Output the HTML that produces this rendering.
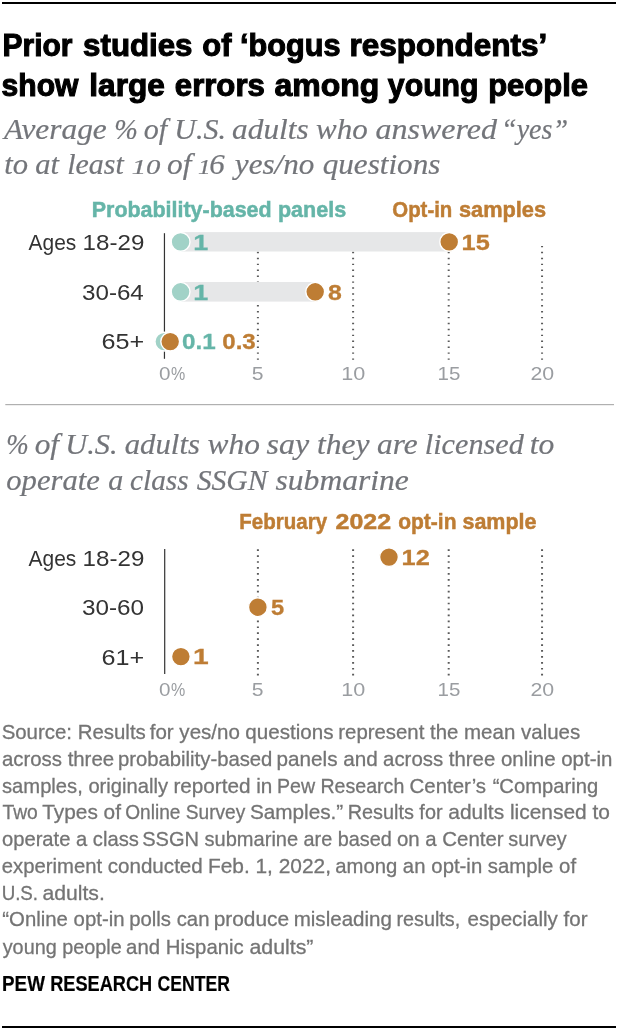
<!DOCTYPE html>
<html><head><meta charset="utf-8"><title>Prior studies of bogus respondents</title>
<style>html,body{margin:0;padding:0;background:#fff;font-family:"Liberation Sans",sans-serif}svg{display:block;will-change:transform}</style></head>
<body><svg width="620" height="1032" viewBox="0 0 620 1032">
<rect x="0" y="0" width="620" height="1032" fill="#ffffff"/>
<rect x="2" y="2" width="614" height="2" fill="#000"/>
<rect x="2" y="1026" width="614" height="2" fill="#000"/>
<rect x="5.3" y="404" width="608.7" height="1.2" fill="#b0b0b0"/>
<g stroke="#5a5a5a" stroke-width="2" stroke-dasharray="1.4 4.52">
<line x1="257.9" y1="245.9" x2="257.9" y2="360" />
<line x1="353.1" y1="245.9" x2="353.1" y2="360" />
<line x1="448.7" y1="245.9" x2="448.7" y2="360" />
<line x1="542.05" y1="245.9" x2="542.05" y2="360" />
</g>
<rect x="163.85" y="233.2" width="1.2" height="125.6" fill="#333333"/>
<rect x="180.6" y="232.1" width="268.7" height="19.4" fill="#e6e7e8"/>
<rect x="180.6" y="282" width="134.6" height="19.6" fill="#e6e7e8"/>
<circle cx="180.6" cy="241.9" r="9.4" fill="#a1d2c7" stroke="#fff" stroke-width="1.4"/>
<circle cx="449.2" cy="241.9" r="9.4" fill="#be7d34" stroke="#fff" stroke-width="1.4"/>
<circle cx="180.6" cy="291.8" r="9.4" fill="#a1d2c7" stroke="#fff" stroke-width="1.4"/>
<circle cx="315.2" cy="291.8" r="9.4" fill="#be7d34" stroke="#fff" stroke-width="1.4"/>
<circle cx="164.3" cy="341.6" r="9.4" fill="#a1d2c7" stroke="#fff" stroke-width="1.4"/>
<circle cx="170.2" cy="341.6" r="9.4" fill="#be7d34" stroke="#fff" stroke-width="1.4"/>
<g stroke="#5a5a5a" stroke-width="2" stroke-dasharray="1.7 4.23">
<line x1="257.9" y1="549.3" x2="257.9" y2="675.5"/>
<line x1="353.1" y1="549.3" x2="353.1" y2="675.5"/>
<line x1="448.7" y1="549.3" x2="448.7" y2="675.5"/>
<line x1="542.05" y1="549.3" x2="542.05" y2="675.5"/>
</g>
<rect x="164.1" y="549" width="1.2" height="125" fill="#333333"/>
<circle cx="389" cy="557.1" r="9.4" fill="#be7d34" stroke="#fff" stroke-width="1.4"/>
<circle cx="257.9" cy="607.2" r="9.4" fill="#be7d34" stroke="#fff" stroke-width="1.4"/>
<circle cx="180.9" cy="656.6" r="9.4" fill="#be7d34" stroke="#fff" stroke-width="1.4"/>
<g font-family="Liberation Sans, sans-serif" font-size="32.0" font-weight="bold" font-style="normal" fill="#000000" stroke="#000000" stroke-width="1.1">
<text x="2.52" y="55.9" textLength="69.96" lengthAdjust="spacingAndGlyphs">Prior</text>
<text x="83.12" y="55.9" textLength="109.36" lengthAdjust="spacingAndGlyphs">studies</text>
<text x="202.29" y="55.9" textLength="29.14" lengthAdjust="spacingAndGlyphs">of</text>
<text x="240.09" y="55.9" textLength="100.44" lengthAdjust="spacingAndGlyphs">‘bogus</text>
<text x="349.48" y="55.9" textLength="197.69" lengthAdjust="spacingAndGlyphs">respondents’</text>
</g>
<g font-family="Liberation Sans, sans-serif" font-size="32.0" font-weight="bold" font-style="normal" fill="#000000" stroke="#000000" stroke-width="1.1">
<text x="1.58" y="95.7" textLength="76.82" lengthAdjust="spacingAndGlyphs">show</text>
<text x="89.34" y="95.7" textLength="75.61" lengthAdjust="spacingAndGlyphs">large</text>
<text x="174.84" y="95.7" textLength="89.99" lengthAdjust="spacingAndGlyphs">errors</text>
<text x="274.52" y="95.7" textLength="104.76" lengthAdjust="spacingAndGlyphs">among</text>
<text x="387.84" y="95.7" textLength="90.73" lengthAdjust="spacingAndGlyphs">young</text>
<text x="488.13" y="95.7" textLength="99.84" lengthAdjust="spacingAndGlyphs">people</text>
</g>
<g font-family="Liberation Serif, serif" font-size="29.5" font-weight="normal" font-style="italic" fill="#73757a" stroke="#73757a" stroke-width="0.2">
<text x="3.96" y="138.9" textLength="102.8" lengthAdjust="spacingAndGlyphs">Average</text>
<text x="114.14" y="138.9" textLength="23.6" lengthAdjust="spacingAndGlyphs">%</text>
<text x="143.66" y="138.9" textLength="23.4" lengthAdjust="spacingAndGlyphs">of</text>
<text x="174.29" y="138.9" textLength="51.6" lengthAdjust="spacingAndGlyphs">U.S.</text>
<text x="232.11" y="138.9" textLength="76.46" lengthAdjust="spacingAndGlyphs">adults</text>
<text x="316.03" y="138.9" textLength="51.74" lengthAdjust="spacingAndGlyphs">who</text>
<text x="375.43" y="138.9" textLength="121.62" lengthAdjust="spacingAndGlyphs">answered</text>
<text x="501.05" y="138.9" textLength="67.07" lengthAdjust="spacingAndGlyphs">“yes”</text>
</g>
<g font-family="Liberation Serif, serif" font-size="29.5" font-weight="normal" font-style="italic" fill="#73757a" stroke="#73757a" stroke-width="0.2">
<text x="4.17" y="174.4" textLength="23.81" lengthAdjust="spacingAndGlyphs">to</text>
<text x="35.22" y="174.4" textLength="23.76" lengthAdjust="spacingAndGlyphs">at</text>
<text x="67.27" y="174.4" textLength="56.51" lengthAdjust="spacingAndGlyphs">least</text>
<text x="131.68" y="174.4" textLength="28.71" lengthAdjust="spacingAndGlyphs" font-size="21.0">10</text>
<text x="167.0" y="174.4" textLength="24.44" lengthAdjust="spacingAndGlyphs">of</text>
<text x="198.06" y="174.4" textLength="12.67" lengthAdjust="spacingAndGlyphs" font-size="21.0">1</text>
<text x="209.15" y="174.4" textLength="15.47" lengthAdjust="spacingAndGlyphs">6</text>
<text x="234.84" y="174.4" textLength="79.56" lengthAdjust="spacingAndGlyphs">yes/no</text>
<text x="322.69" y="174.4" textLength="117.72" lengthAdjust="spacingAndGlyphs">questions</text>
</g>
<g font-family="Liberation Sans, sans-serif" font-size="22.5" font-weight="bold" font-style="normal" fill="#65b5a8" stroke="#65b5a8" stroke-width="0.5">
<text x="91.77" y="217.0" textLength="179.82" lengthAdjust="spacingAndGlyphs">Probability-based</text>
<text x="277.98" y="217.0" textLength="68.19" lengthAdjust="spacingAndGlyphs">panels</text>
</g>
<g font-family="Liberation Sans, sans-serif" font-size="22.5" font-weight="bold" font-style="normal" fill="#be7d34" stroke="#be7d34" stroke-width="0.5">
<text x="392.31" y="217.0" textLength="60.04" lengthAdjust="spacingAndGlyphs">Opt-in</text>
<text x="458.98" y="217.0" textLength="87.03" lengthAdjust="spacingAndGlyphs">samples</text>
</g>
<g font-family="Liberation Sans, sans-serif" font-size="21.7" font-weight="normal" font-style="normal" fill="#333333">
<text x="28.59" y="250.0" textLength="47.74" lengthAdjust="spacingAndGlyphs">Ages</text>
<text x="82.6" y="250.0" textLength="61.71" lengthAdjust="spacingAndGlyphs" font-size="22.3">18-29</text>
</g>
<g font-family="Liberation Sans, sans-serif" font-size="21.7" font-weight="normal" font-style="normal" fill="#333333">
<text x="82.03" y="299.8" textLength="61.8" lengthAdjust="spacingAndGlyphs" font-size="22.3">30-64</text>
</g>
<g font-family="Liberation Sans, sans-serif" font-size="21.7" font-weight="normal" font-style="normal" fill="#333333">
<text x="101.59" y="348.7" textLength="42.72" lengthAdjust="spacingAndGlyphs" font-size="22.3">65+</text>
</g>
<g font-family="Liberation Sans, sans-serif" font-size="22.8" font-weight="bold" font-style="normal" fill="#65b5a8" stroke="#65b5a8" stroke-width="0.3">
<text x="193.29" y="249.8" textLength="14.98" lengthAdjust="spacingAndGlyphs">1</text>
</g>
<g font-family="Liberation Sans, sans-serif" font-size="22.8" font-weight="bold" font-style="normal" fill="#be7d34" stroke="#be7d34" stroke-width="0.3">
<text x="461.58" y="249.8" textLength="28.17" lengthAdjust="spacingAndGlyphs">15</text>
</g>
<g font-family="Liberation Sans, sans-serif" font-size="22.8" font-weight="bold" font-style="normal" fill="#65b5a8" stroke="#65b5a8" stroke-width="0.3">
<text x="193.29" y="299.6" textLength="14.98" lengthAdjust="spacingAndGlyphs">1</text>
</g>
<g font-family="Liberation Sans, sans-serif" font-size="22.8" font-weight="bold" font-style="normal" fill="#be7d34" stroke="#be7d34" stroke-width="0.3">
<text x="327.97" y="299.5" textLength="13.82" lengthAdjust="spacingAndGlyphs">8</text>
</g>
<g font-family="Liberation Sans, sans-serif" font-size="22.8" font-weight="bold" font-style="normal" fill="#65b5a8" stroke="#65b5a8" stroke-width="0.3">
<text x="182.01" y="349.4" textLength="33.68" lengthAdjust="spacingAndGlyphs">0.1</text>
</g>
<g font-family="Liberation Sans, sans-serif" font-size="22.8" font-weight="bold" font-style="normal" fill="#be7d34" stroke="#be7d34" stroke-width="0.3">
<text x="222.31" y="349.4" textLength="33.47" lengthAdjust="spacingAndGlyphs">0.3</text>
</g>
<g font-family="Liberation Sans, sans-serif" font-size="19.0" font-weight="normal" font-style="normal" fill="#9a9da1">
<text x="158.98" y="380.0" textLength="11.5" lengthAdjust="spacingAndGlyphs">0</text>
<text x="170.99" y="380.0" textLength="14.26" lengthAdjust="spacingAndGlyphs">%</text>
</g>
<g font-family="Liberation Sans, sans-serif" font-size="19.0" font-weight="normal" font-style="normal" fill="#9a9da1">
<text x="251.67" y="380.0" textLength="11.78" lengthAdjust="spacingAndGlyphs">5</text>
</g>
<g font-family="Liberation Sans, sans-serif" font-size="19.0" font-weight="normal" font-style="normal" fill="#9a9da1">
<text x="341.34" y="380.0" textLength="24.0" lengthAdjust="spacingAndGlyphs">10</text>
</g>
<g font-family="Liberation Sans, sans-serif" font-size="19.0" font-weight="normal" font-style="normal" fill="#9a9da1">
<text x="437.47" y="380.0" textLength="22.83" lengthAdjust="spacingAndGlyphs">15</text>
</g>
<g font-family="Liberation Sans, sans-serif" font-size="19.0" font-weight="normal" font-style="normal" fill="#9a9da1">
<text x="530.44" y="380.0" textLength="23.74" lengthAdjust="spacingAndGlyphs">20</text>
</g>
<g font-family="Liberation Sans, sans-serif" font-size="19.0" font-weight="normal" font-style="normal" fill="#9a9da1">
<text x="158.98" y="695.8" textLength="11.5" lengthAdjust="spacingAndGlyphs">0</text>
<text x="170.99" y="695.8" textLength="14.26" lengthAdjust="spacingAndGlyphs">%</text>
</g>
<g font-family="Liberation Sans, sans-serif" font-size="19.0" font-weight="normal" font-style="normal" fill="#9a9da1">
<text x="251.67" y="695.8" textLength="11.78" lengthAdjust="spacingAndGlyphs">5</text>
</g>
<g font-family="Liberation Sans, sans-serif" font-size="19.0" font-weight="normal" font-style="normal" fill="#9a9da1">
<text x="341.34" y="695.8" textLength="24.0" lengthAdjust="spacingAndGlyphs">10</text>
</g>
<g font-family="Liberation Sans, sans-serif" font-size="19.0" font-weight="normal" font-style="normal" fill="#9a9da1">
<text x="437.47" y="695.8" textLength="22.83" lengthAdjust="spacingAndGlyphs">15</text>
</g>
<g font-family="Liberation Sans, sans-serif" font-size="19.0" font-weight="normal" font-style="normal" fill="#9a9da1">
<text x="530.44" y="695.8" textLength="23.74" lengthAdjust="spacingAndGlyphs">20</text>
</g>
<g font-family="Liberation Serif, serif" font-size="29.5" font-weight="normal" font-style="italic" fill="#73757a" stroke="#73757a" stroke-width="0.2">
<text x="6.22" y="454.1" textLength="22.46" lengthAdjust="spacingAndGlyphs">%</text>
<text x="34.68" y="454.1" textLength="24.4" lengthAdjust="spacingAndGlyphs">of</text>
<text x="65.31" y="454.1" textLength="52.27" lengthAdjust="spacingAndGlyphs">U.S.</text>
<text x="124.74" y="454.1" textLength="75.15" lengthAdjust="spacingAndGlyphs">adults</text>
<text x="207.56" y="454.1" textLength="52.36" lengthAdjust="spacingAndGlyphs">who</text>
<text x="266.49" y="454.1" textLength="42.63" lengthAdjust="spacingAndGlyphs">say</text>
<text x="316.93" y="454.1" textLength="52.64" lengthAdjust="spacingAndGlyphs">they</text>
<text x="377.12" y="454.1" textLength="40.6" lengthAdjust="spacingAndGlyphs">are</text>
<text x="424.8" y="454.1" textLength="98.96" lengthAdjust="spacingAndGlyphs">licensed</text>
<text x="529.69" y="454.1" textLength="24.61" lengthAdjust="spacingAndGlyphs">to</text>
</g>
<g font-family="Liberation Serif, serif" font-size="29.5" font-weight="normal" font-style="italic" fill="#73757a" stroke="#73757a" stroke-width="0.2">
<text x="6.29" y="489.5" textLength="93.55" lengthAdjust="spacingAndGlyphs">operate</text>
<text x="108.34" y="489.5" textLength="15.04" lengthAdjust="spacingAndGlyphs">a</text>
<text x="130.0" y="489.5" textLength="58.57" lengthAdjust="spacingAndGlyphs">class</text>
<text x="196.72" y="489.5" textLength="70.84" lengthAdjust="spacingAndGlyphs">SSGN</text>
<text x="275.5" y="489.5" textLength="133.39" lengthAdjust="spacingAndGlyphs">submarine</text>
</g>
<g font-family="Liberation Sans, sans-serif" font-size="22.5" font-weight="bold" font-style="normal" fill="#be7d34" stroke="#be7d34" stroke-width="0.5">
<text x="239.32" y="528.5" textLength="87.76" lengthAdjust="spacingAndGlyphs">February</text>
<text x="335.54" y="528.5" textLength="55.5" lengthAdjust="spacingAndGlyphs">2022</text>
<text x="398.21" y="528.5" textLength="58.24" lengthAdjust="spacingAndGlyphs">opt-in</text>
<text x="462.44" y="528.5" textLength="74.09" lengthAdjust="spacingAndGlyphs">sample</text>
</g>
<g font-family="Liberation Sans, sans-serif" font-size="21.7" font-weight="normal" font-style="normal" fill="#333333">
<text x="28.59" y="565.6" textLength="47.74" lengthAdjust="spacingAndGlyphs">Ages</text>
<text x="82.6" y="565.6" textLength="61.71" lengthAdjust="spacingAndGlyphs" font-size="22.3">18-29</text>
</g>
<g font-family="Liberation Sans, sans-serif" font-size="21.7" font-weight="normal" font-style="normal" fill="#333333">
<text x="81.96" y="614.8" textLength="62.08" lengthAdjust="spacingAndGlyphs" font-size="22.3">30-60</text>
</g>
<g font-family="Liberation Sans, sans-serif" font-size="21.7" font-weight="normal" font-style="normal" fill="#333333">
<text x="101.59" y="664.6" textLength="42.72" lengthAdjust="spacingAndGlyphs" font-size="22.3">61+</text>
</g>
<g font-family="Liberation Sans, sans-serif" font-size="22.8" font-weight="bold" font-style="normal" fill="#be7d34" stroke="#be7d34" stroke-width="0.3">
<text x="401.56" y="565.1" textLength="28.18" lengthAdjust="spacingAndGlyphs">12</text>
</g>
<g font-family="Liberation Sans, sans-serif" font-size="22.8" font-weight="bold" font-style="normal" fill="#be7d34" stroke="#be7d34" stroke-width="0.3">
<text x="271.09" y="615.0" textLength="13.16" lengthAdjust="spacingAndGlyphs">5</text>
</g>
<g font-family="Liberation Sans, sans-serif" font-size="22.8" font-weight="bold" font-style="normal" fill="#be7d34" stroke="#be7d34" stroke-width="0.3">
<text x="192.96" y="664.4" textLength="15.68" lengthAdjust="spacingAndGlyphs">1</text>
</g>
<g font-family="Liberation Sans, sans-serif" font-size="21.0" font-weight="normal" font-style="normal" fill="#747474" stroke="#747474" stroke-width="0.3">
<text x="1.64" y="738.6" textLength="144.17" lengthAdjust="spacingAndGlyphs">Source: Results</text>
<text x="149.69" y="738.6" textLength="90.18" lengthAdjust="spacingAndGlyphs">for yes/no</text>
<text x="245.36" y="738.6" textLength="88.21" lengthAdjust="spacingAndGlyphs">questions</text>
<text x="338.32" y="738.6" textLength="119.98" lengthAdjust="spacingAndGlyphs">represent the</text>
<text x="464.05" y="738.6" textLength="116.2" lengthAdjust="spacingAndGlyphs">mean values</text>
</g>
<g font-family="Liberation Sans, sans-serif" font-size="21.0" font-weight="normal" font-style="normal" fill="#747474" stroke="#747474" stroke-width="0.3">
<text x="1.96" y="765.55" textLength="112.13" lengthAdjust="spacingAndGlyphs">across three</text>
<text x="117.97" y="765.55" textLength="154.43" lengthAdjust="spacingAndGlyphs">probability-based</text>
<text x="276.59" y="765.55" textLength="101.24" lengthAdjust="spacingAndGlyphs">panels and</text>
<text x="383.07" y="765.55" textLength="112.17" lengthAdjust="spacingAndGlyphs">across three</text>
<text x="500.88" y="765.55" textLength="111.57" lengthAdjust="spacingAndGlyphs">online opt-in</text>
</g>
<g font-family="Liberation Sans, sans-serif" font-size="21.0" font-weight="normal" font-style="normal" fill="#747474" stroke="#747474" stroke-width="0.3">
<text x="2.0" y="792.5" textLength="166.08" lengthAdjust="spacingAndGlyphs">samples, originally</text>
<text x="173.41" y="792.5" textLength="98.99" lengthAdjust="spacingAndGlyphs">reported in</text>
<text x="276.94" y="792.5" textLength="127.34" lengthAdjust="spacingAndGlyphs">Pew Research</text>
<text x="409.57" y="792.5" textLength="76.52" lengthAdjust="spacingAndGlyphs">Center’s</text>
<text x="492.64" y="792.5" textLength="105.54" lengthAdjust="spacingAndGlyphs">“Comparing</text>
</g>
<g font-family="Liberation Sans, sans-serif" font-size="21.0" font-weight="normal" font-style="normal" fill="#747474" stroke="#747474" stroke-width="0.3">
<text x="2.44" y="819.45" textLength="35.4" lengthAdjust="spacingAndGlyphs">Two</text>
<text x="42.28" y="819.45" textLength="78.68" lengthAdjust="spacingAndGlyphs">Types of</text>
<text x="125.28" y="819.45" textLength="119.95" lengthAdjust="spacingAndGlyphs">Online Survey</text>
<text x="249.91" y="819.45" textLength="93.32" lengthAdjust="spacingAndGlyphs">Samples.”</text>
<text x="347.68" y="819.45" textLength="94.87" lengthAdjust="spacingAndGlyphs">Results for</text>
<text x="448.3" y="819.45" textLength="161.67" lengthAdjust="spacingAndGlyphs">adults licensed to</text>
</g>
<g font-family="Liberation Sans, sans-serif" font-size="21.0" font-weight="normal" font-style="normal" fill="#747474" stroke="#747474" stroke-width="0.3">
<text x="1.98" y="846.4" textLength="136.88" lengthAdjust="spacingAndGlyphs">operate a class</text>
<text x="142.16" y="846.4" textLength="155.99" lengthAdjust="spacingAndGlyphs">SSGN submarine</text>
<text x="303.52" y="846.4" textLength="88.19" lengthAdjust="spacingAndGlyphs">are based</text>
<text x="396.9" y="846.4" textLength="106.71" lengthAdjust="spacingAndGlyphs">on a Center</text>
<text x="508.29" y="846.4" textLength="58.31" lengthAdjust="spacingAndGlyphs">survey</text>
</g>
<g font-family="Liberation Sans, sans-serif" font-size="21.0" font-weight="normal" font-style="normal" fill="#747474" stroke="#747474" stroke-width="0.3">
<text x="1.86" y="873.35" textLength="100.2" lengthAdjust="spacingAndGlyphs">experiment</text>
<text x="107.71" y="873.35" textLength="95.07" lengthAdjust="spacingAndGlyphs">conducted</text>
<text x="207.91" y="873.35" textLength="123.1" lengthAdjust="spacingAndGlyphs">Feb. 1, 2022,</text>
<text x="335.24" y="873.35" textLength="90.2" lengthAdjust="spacingAndGlyphs">among an</text>
<text x="431.34" y="873.35" textLength="144.71" lengthAdjust="spacingAndGlyphs">opt-in sample of</text>
</g>
<g font-family="Liberation Sans, sans-serif" font-size="21.0" font-weight="normal" font-style="normal" fill="#747474" stroke="#747474" stroke-width="0.3">
<text x="1.65" y="899.9" textLength="36.41" lengthAdjust="spacingAndGlyphs">U.S.</text>
<text x="42.47" y="899.9" textLength="62.34" lengthAdjust="spacingAndGlyphs">adults.</text>
</g>
<g font-family="Liberation Sans, sans-serif" font-size="21.0" font-weight="normal" font-style="normal" fill="#747474" stroke="#747474" stroke-width="0.3">
<text x="2.34" y="926.25" textLength="122.19" lengthAdjust="spacingAndGlyphs">“Online opt-in</text>
<text x="129.21" y="926.25" textLength="80.24" lengthAdjust="spacingAndGlyphs">polls can</text>
<text x="213.69" y="926.25" textLength="75.41" lengthAdjust="spacingAndGlyphs">produce</text>
<text x="293.65" y="926.25" textLength="98.36" lengthAdjust="spacingAndGlyphs">misleading</text>
<text x="396.48" y="926.25" textLength="63.65" lengthAdjust="spacingAndGlyphs">results,</text>
<text x="467.56" y="926.25" textLength="119.96" lengthAdjust="spacingAndGlyphs">especially for</text>
</g>
<g font-family="Liberation Sans, sans-serif" font-size="21.0" font-weight="normal" font-style="normal" fill="#747474" stroke="#747474" stroke-width="0.3">
<text x="2.71" y="953.9" textLength="119.01" lengthAdjust="spacingAndGlyphs">young people</text>
<text x="126.08" y="953.9" textLength="117.64" lengthAdjust="spacingAndGlyphs">and Hispanic</text>
<text x="249.42" y="953.9" textLength="64.04" lengthAdjust="spacingAndGlyphs">adults”</text>
</g>
<g font-family="Liberation Sans, sans-serif" font-size="21.7" font-weight="bold" font-style="normal" fill="#000000" stroke="#000000" stroke-width="0.2">
<text x="2.02" y="991.2" textLength="42.96" lengthAdjust="spacingAndGlyphs">PEW</text>
<text x="50.21" y="991.2" textLength="101.93" lengthAdjust="spacingAndGlyphs">RESEARCH</text>
<text x="157.62" y="991.2" textLength="72.3" lengthAdjust="spacingAndGlyphs">CENTER</text>
</g>
</svg></body></html>
